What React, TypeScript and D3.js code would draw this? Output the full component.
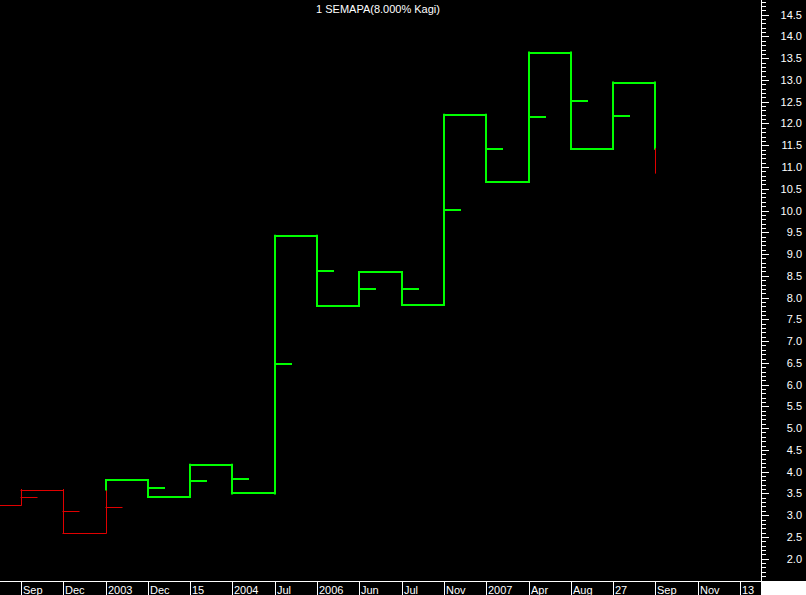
import React from "react";
import * as d3 from "d3";

// Kagi turning levels (price at each reversal)
const levels = [3.23, 3.59, 2.59, 3.81, 3.42, 4.16, 3.5, 9.42, 7.81, 8.59, 7.84, 12.2, 10.66, 13.63, 11.42, 12.94, 10.86];
// small side marks on each vertical line
const marks: (number | null)[] = [3.41, 3.1, 3.19, 3.63, 3.79, 3.83, 6.47, 8.62, 8.2, 8.2, 10.01, 11.42, 12.15, 12.52, 12.17, null];
const xLabels = ["Sep", "Dec", "2003", "Dec", "15", "2004", "Jul", "2006", "Jun", "Jul", "Nov", "2007", "Apr", "Aug", "27", "Sep", "Nov", "13"];
const yTickLabels = ["2.0", "2.5", "3.0", "3.5", "4.0", "4.5", "5.0", "5.5", "6.0", "6.5", "7.0", "7.5", "8.0", "8.5", "9.0", "9.5", "10.0", "10.5", "11.0", "11.5", "12.0", "12.5", "13.0", "13.5", "14.0", "14.5"];
const title = "1 SEMAPA(8.000% Kagi)";

const W = 806, H = 595;
const AX = 761, AY = 581;
const GREEN = "#00ff00", RED = "#e00000";
const FONT = "Arial, 'Liberation Sans', sans-serif";

type Seg = { x1: number; y1: number; x2: number; y2: number; thick: boolean };

export default function App() {
  const x = d3.scaleLinear().domain([0, 17]).range([21, 740]);
  const y = d3.scaleLinear().domain([2, 14.5]).range([558.7, 14.7]);
  const step = x(1) - x(0);
  const px = (i: number) => Math.round(x(i));

  const segs: Seg[] = [];
  const tickSegs: Seg[] = [];
  let yang = false;
  let shoulder: number | null = null;
  let waist: number | null = levels[0];
  // leading horizontal
  segs.push({ x1: px(-1), y1: y(levels[0]), x2: px(0), y2: y(levels[0]), thick: false });
  for (let i = 0; i < levels.length - 1; i++) {
    const a = levels[i], b = levels[i + 1];
    const xi = px(i);
    let split: number | null = null;
    let before = yang;
    if (b > a) {
      if (!yang && shoulder !== null && b > shoulder) { split = shoulder; yang = true; }
      shoulder = b;
    } else {
      if (yang && waist !== null && b < waist) { split = waist; yang = false; }
      waist = b;
    }
    if (split === null) {
      segs.push({ x1: xi, y1: y(a), x2: xi, y2: y(b), thick: yang });
    } else {
      segs.push({ x1: xi, y1: y(a), x2: xi, y2: y(split), thick: before });
      segs.push({ x1: xi, y1: y(split), x2: xi, y2: y(b), thick: yang });
    }
    const m = marks[i];
    if (m !== null && m !== undefined) {
      let th = yang;
      if (split !== null) {
        const inFirst = (m - a) * (m - split) <= 0;
        th = inFirst ? before : yang;
      }
      tickSegs.push({ x1: xi, y1: y(m), x2: xi + Math.round(step * 0.37), y2: y(m), thick: th });
    }
    if (i < levels.length - 2) {
      segs.push({ x1: xi, y1: y(b), x2: px(i + 1), y2: y(b), thick: yang });
    }
  }

  const drawSeg = (s: Seg, k: string) => {
    const o = s.thick ? 0 : 0.5;
    const isV = s.x1 === s.x2;
    return (
      <line
        key={k}
        x1={s.x1 + (isV ? o : 0)}
        x2={s.x2 + (isV ? o : 0)}
        y1={isV ? s.y1 : Math.round(s.y1) + o}
        y2={isV ? s.y2 : Math.round(s.y2) + o}
        stroke={s.thick ? GREEN : RED}
        strokeWidth={s.thick ? 2 : 1}
        strokeLinecap="square"
      />
    );
  };

  const minorTicks = d3.range(16, 149).map((v) => v / 10);

  return (
    <svg width={W} height={H} style={{ position: "absolute", left: 0, top: 0, display: "block" }} fontFamily={FONT}>
      <defs>
        <clipPath id="plot">
          <rect x={0} y={0} width={AX} height={AY} />
        </clipPath>
      </defs>
      <rect x={0} y={0} width={W} height={H} fill="#000" />
      <text x={378} y={13} fill="#fff" fontSize={11} textAnchor="middle">{title}</text>
      <g clipPath="url(#plot)">
        {segs.map((s, i) => drawSeg(s, "s" + i))}
        {tickSegs.map((s, i) => drawSeg(s, "t" + i))}
      </g>
      {/* right axis */}
      <line x1={AX + 0.5} x2={AX + 0.5} y1={0} y2={AY} stroke="#fff" strokeWidth={1} />
      {minorTicks.map((v, i) => {
        const yy = Math.round(y(v)) + 0.5;
        const major = Math.round(v * 10) % 5 === 0;
        return <line key={"mt" + i} x1={AX} x2={AX + (major ? 8 : 5)} y1={yy} y2={yy} stroke="#fff" strokeWidth={1} />;
      })}
      {yTickLabels.map((l) => (
        <text key={"yl" + l} x={802} y={y(+l)} dy="0.36em" fill="#fff" fontSize={11} textAnchor="end">{l}</text>
      ))}
      {/* bottom axis */}
      <line x1={0} x2={AX} y1={AY + 0.5} y2={AY + 0.5} stroke="#fff" strokeWidth={1} />
      {xLabels.map((l, i) => (
        <g key={"xl" + i}>
          <line x1={px(i) + 0.5} x2={px(i) + 0.5} y1={AY} y2={H} stroke="#fff" strokeWidth={1} />
          <text x={px(i) + 2} y={594} fill="#fff" fontSize={11}>{l}</text>
        </g>
      ))}
      <rect x={AX} y={AY} width={W - AX} height={H - AY} fill="#fff" />
    </svg>
  );
}
